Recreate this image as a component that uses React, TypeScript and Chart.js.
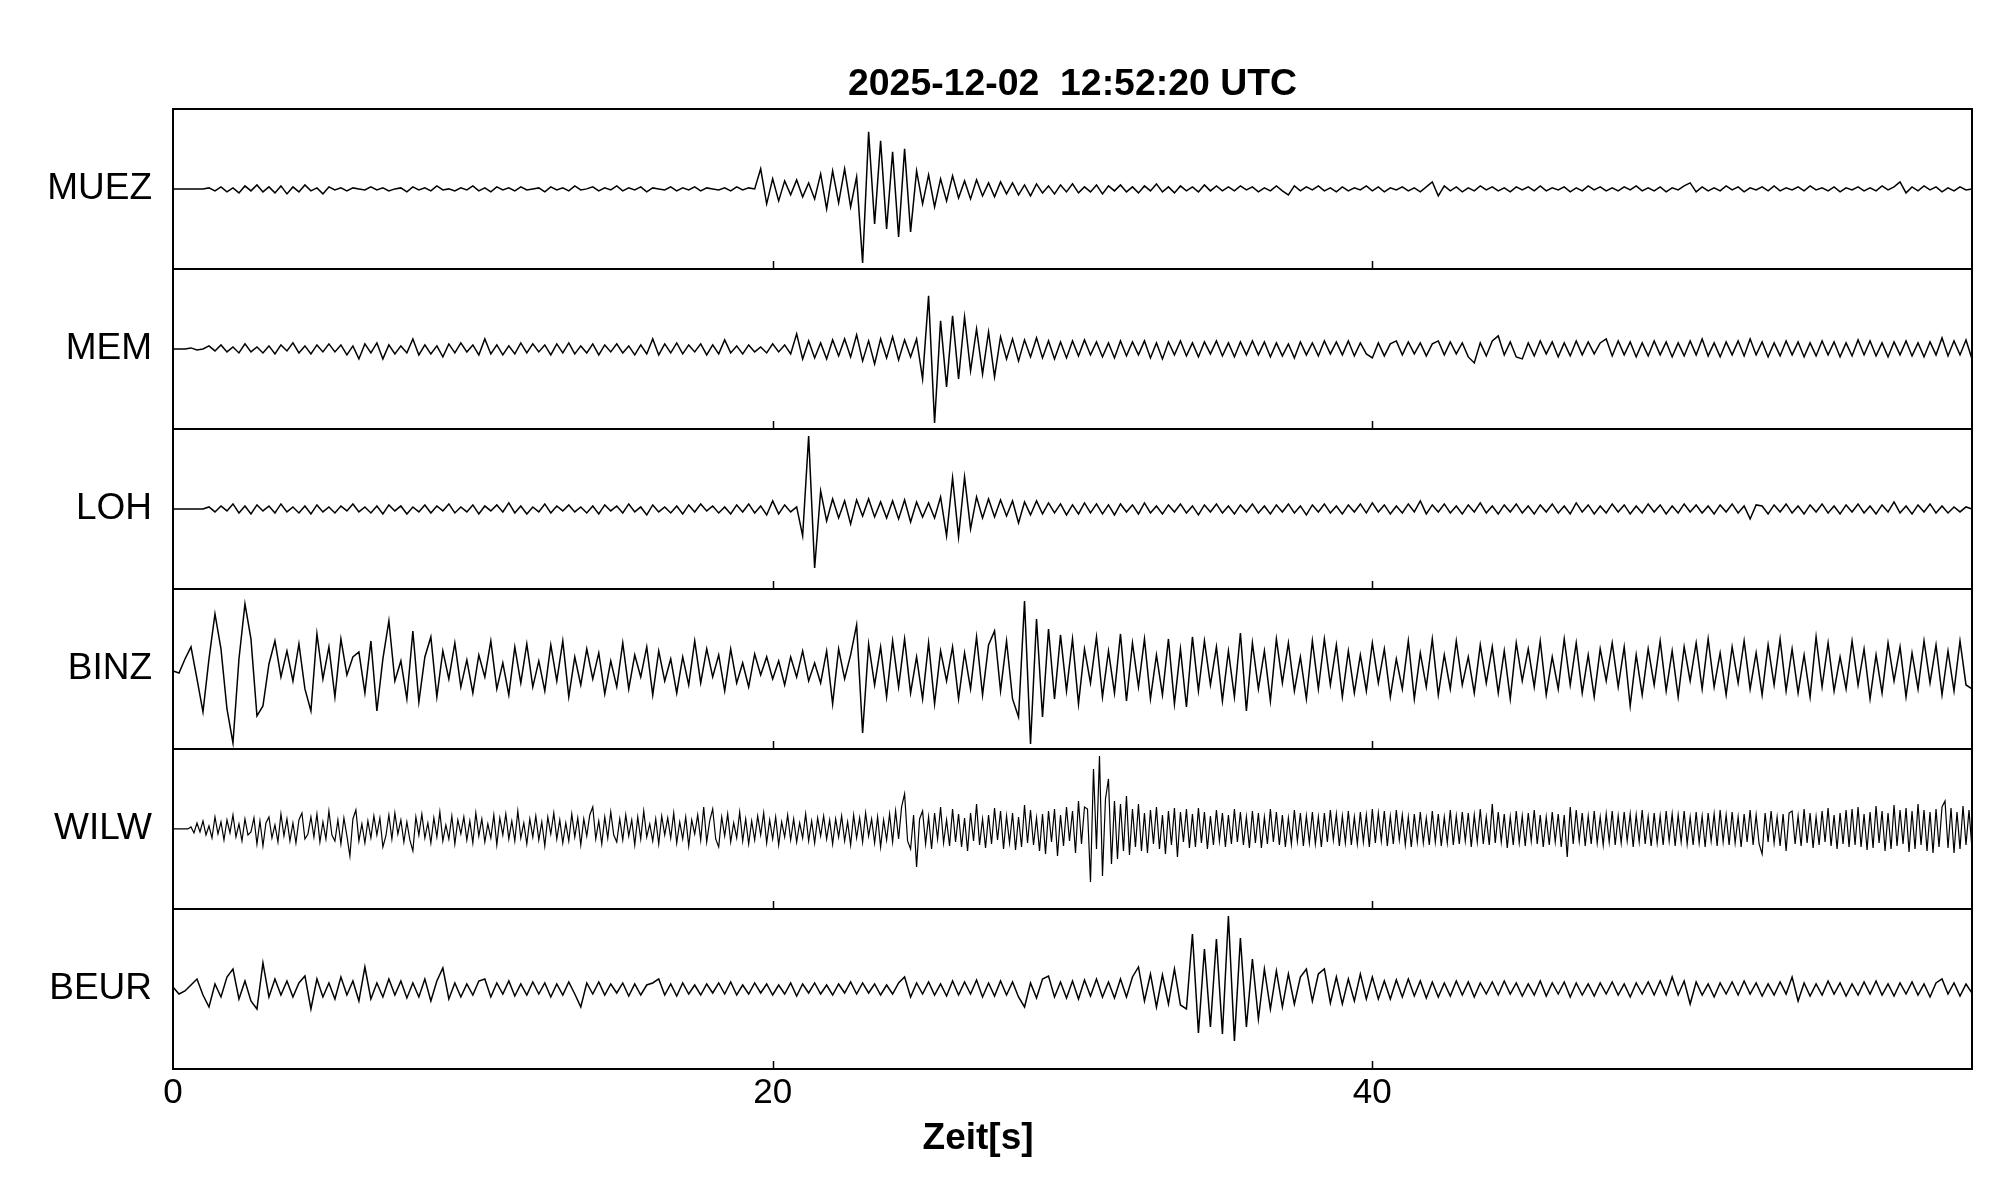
import React, { useEffect, useRef } from 'react';
import { Chart, registerables } from 'chart.js';

Chart.register(...registerables);

const W = 2005;
const H = 1202;
const FONT = '"Liberation Sans", Arial, Helvetica, sans-serif';

const TITLE = '2025-12-02  12:52:20 UTC';
const X_LABEL = 'Zeit[s]';
const STATIONS = ['MUEZ', 'MEM', 'LOH', 'BINZ', 'WILW', 'BEUR'];
const X_TICKS = [0, 20, 40];
const T_MIN = 0;
const T_MAX = 60;
const PANEL = 160; // amplitude units per panel (trace range -80..80)

const MUEZ = [
  0, 0, 0, 0, 0, 0,
  1, -2, 2, -3, 1, -4, 3, -2, 4, -3,
  2, -4, 3, -5, 2, -3, 4, -2, 1, -5,
  2, -1, 1, -2, 1, 0, -1, 2, -1, 1,
  -2, 0, 1, -3, 2, -1, 1, -2, 3, -1,
  0, -2, 1, -1, 3, -2, 1, -3, 2, -1,
  1, -2, 2, -1, 0, 1, -3, 2, -1, 1,
  -2, 3, -1, 0, 2, -2, 1, -1, 3, -2,
  1, -1, 2, -3, 1, 0, -1, 2, -2, 1,
  -1, 2, -2, 1, 0, -1, 1, -2, 2, -1, 1, 0,
  20, -15, 10, -12, 8, -6, 9, -8, 6, -10,
  15, -20, 18, -14, 20, -18,
  12, -74, 57, -35, 48, -40, 37, -48, 40, -43, 18, -15,
  14, -18, 10, -12, 13, -9, 8, -10,
  9, -7, 6, -8, 7, -5, 6, -6, 4, -7, 5, -4,
  3, -5, 4, -3, 5, -4, 2, -3, 4, -5, 3, -2, 4, -3, 2, -4, 3, -2, 5, -3, 2, -4, 3, -2, 2, -3, 4, -2, 3, -2,
  2, -2, 3, -1, 2, -3, 1, -2, 3, -2,
  -6, 3, -2, 2, -1, 3, -2, 1, -3, 2,
  -2, 1, -1, 3, -2, 2, -3, 1, -1, 2,
  -2, 1, -3, 2, 7, -7, 3, -2, 2, -3,
  1, -2, 3, -1, 2, -2, 1, -3, 2, -1,
  2, -2, 3, -2, 1, -1, 2, -3, 1, -2,
  3, -1, 2, -2, 1, -2, 2, -1, 3, -2,
  1, -2, 2, -3, 1, -1, 3, 6, -3, 2,
  -2, 1, -2, 3, -1, 2, -3, 1, -1, 2,
  -2, 3, -2, 1, -1, 2, -2, 3, -1, 1,
  -2, 2, -3, 1, -1, 2, -2, 1, -2, 3,
  -1, 2, 7, -4, 2, -2, 3, -1, 2, -3,
  1, -2, 2, -1, 0,
];

const MEM = [
  0, 0, 0, 1, -1, 0,
  3, -2, 4, -3, 2, -4, 5, -3, 2, -4,
  3, -5, 4, -2, 6, -4, 3, -5, 4, -3,
  5, -3, 4, -6, 3, -10, 5, -4, 6, -10,
  4, -5, 3, -4, 10, -6, 4, -5, 3, -8,
  5, -4, 6, -3, 4, -6, 10, -5, 4, -6,
  3, -5, 6, -4, 5, -3, 4, -6, 5, -4,
  6, -5, 3, -4, 5, -6, 4, -3, 5, -4,
  3, -6, 4, -5, 10, -6, 5, -4, 6, -5,
  4, -3, 5, -6, 4, -5, 9, -4, 3, -5,
  4, -3, 2, -4, 5, -3, 4, -5,
  15, -10,
  8, -9, 6, -10, 9, -7, 10, -8, 14, -12,
  8, -15, 10, -9, 12, -11, 9, -8, 10,
  -30, 53, -74, 28, -38, 33, -30, 32, -22, 20, -25, 17, -28, 12, -10,
  10, -12, 9, -8, 11, -9, 8, -10, 7, -9,
  8, -7, 9, -6, 7, -8, 6, -9, 8, -7,
  7, -6, 8, -9, 6, -10, 7, -6, 8, -7,
  6, -8, 7, -5, 8, -7, 6, -8, 7, -6,
  8, -6, 7, -8, 6, -7, 5, -9, 7, -6,
  6, -7, 8, -5, 7, -6, 8, -7, 6, -5,
  -9, 6, -7, 5, 8, -6, 7, -5, 6, -7,
  5, 8, -6, 7, -5, 6, -8, -14, 6, -7,
  8, 13, -6, 7, -8, -10, 6, -7, 8, -5,
  7, -8, 6, -7, 8, -6, 7, -5, 6, 10,
  -7, 8, -6, 7, -8, 6, -7, 8, -6, 7,
  -8, 6, -7, 8, -6, 10, -7, 6, -8, 7,
  -6, 8, -7, 10, -6, 7, -8, 6, -7, 8,
  -6, 7, -8, 6, -7, 8, -6, 7, -8, 6,
  -7, 9, -6, 8, -7, 6, -8, 7, -6, 8,
  -7, 6, -8, 7, -6, 11, -7, 8, -6, 9,
  -10,
];

const LOH = [
  0, 0, 0, 0, 0, 0,
  2, -3, 3, -2, 5, -4, 3, -5, 4, -2,
  3, -4, 5, -3, 2, -4, 3, -5, 4, -3,
  2, -4, 3, -2, 5, -3, 2, -4, 3, -5,
  4, -2, 3, -5, 2, -3, 4, -4, 3, -2,
  5, -4, 2, -3, 4, -5, 3, -2, 4, -3,
  6, -4, 3, -5, 2, -3, 5, -4, 3, -2,
  4, -3, 2, -4, 3, -5, 4, -2, 3, -4,
  5, -3, 2, -6, 4, -3, 2, -4, 3, -5,
  4, -3, 5, -2, 3, -4, 2, -5, 4, -3,
  5, -4, 3, -6, 8, -5, 4, -3,
  2, -27, 73, -59, 18, -12, 10, -9,
  8, -15, 9, -7, 10, -8, 7, -9, 8, -10, 9, -13, 7, -8, 6, -9,
  12, -27, 31, -28, 32, -20, 12, -9,
  10, -8, 9, -7, 8, -14, 7, -6, 8,
  -5, 6, -4, 5, -6, 4, -5, 6, -4, 5,
  -5, 4, -6, 5, -3, 4, -5, 6, -4, 3,
  -5, 4, -3, 5, -4, 3, -6, 4, -3, 5,
  -4, 3, -5, 4, -3, 5, -4, 3, -5, 4,
  -3, 5, -4, 3, -6, 4, -3, 5, -4, 3,
  -5, 4, -3, 5, -4, 6, -3, 4, -5, 3,
  -4, 5, -3, 8, -5, 4, -3, 5, -4, 3,
  -5, 4, -3, 6, -4, 3, -5, 4, -3, 5,
  -4, 3, -5, 4, -3, 5, -4, 3, -5, 6,
  -3, 4, -5, 3, -4, 5, -3, 4, -5, 3,
  -4, 5, -3, 4, -5, 3, -4, 5, -3, 4,
  -4, 3, -5, 4, -3, 5, -4, 3, -10, 4,
  3, -5, 4, -3, 5, -4, 3, -5, 4, -3,
  5, -4, 3, -5, 4, -3, 5, -4, 3, -5,
  4, -3, 7, -4, 3, -5, 4, -3, 5, -4,
  3, -4, 2, -3, 2, 0,
];

const BINZ = [
  -2, -4, 10, 22, -10, -43, 10, 55, 20, -40,
  -74, 10, 65, 30, -47, -37, 5, 28, -8, 18,
  -12, 25, -20, -42, 35, -10, 22, -28, 30, -6,
  12, 17, -24, 28, -42, 10, 48, -12, 8, -30,
  38, -33, 12, 32, -28, 18, -10, 26, -18, 9,
  -24, 14, -8, 28, -20, 6, -26, 22, -14, 25,
  -18, 8, -22, 24, -12, 28, -28, 12, -16, 20,
  -10, 16, -25, 8, -18, 26, -20, 14, -8, 22,
  -26, 18, -12, 10, -24, 12, -16, 28, -14, 20,
  -8, 14, -22, 20, -14, 6, -18, 15, -6, 12,
  -10, 8, -16, 12, -8, 18, -12, 6, -14, 18,
  -35, 20, -10, 14, 44, -64, 25, -16, 22, -28,
  28, -18, 30, -24, 12, -30, 26, -35, 18, -12,
  22, -30, 16, -20, 32, -26, 24, 38, -22, 28,
  -30, -48, 68, -75, 50, -48, 40, -30, 34, -22,
  30, -35, 20, -14, 32, -28, 18, -24, 35, -32,
  26, -18, 30, -30, 14, -26, 30, -35, 20, -38,
  32, -22, 28, -16, 22, -32, 18, -28, 36, -42,
  26, -20, 18, -32, 30, -14, 26, -22, 12, -30,
  28, -20, 30, -16, 24, -28, 18, -24, 14, -22,
  26, -14, 20, -28, 10, -20, 28, -30, 16, -18,
  30, -26, 14, -20, 28, -16, 12, -24, 24, -14,
  22, -24, 18, -30, 26, -12, 20, -18, 28, -26,
  12, -20, 30, -16, 26, -24, 14, -28, 20, -12,
  26, -18, 22, -37, 14, -26, 20, -16, 28, -22,
  18, -28, 22, -12, 26, -20, 30, -18, 16, -26,
  22, -14, 28, -20, 16, -26, 24, -16, 30, -22,
  20, -24, 14, -28, 32, -18, 26, -22, 12, -20,
  28, -16, 20, -30, 14, -24, 26, -12, 22, -28,
  16, -20, 28, -14, 24, -26, 18, -22, 28, -16,
  -20,
];

const WILW = [
  0, 0, 0, 0, 0, 0, 2, -4, 6, -3, 8, -6, 3, -9, 12, -5, 7, -11, 9, -4,
  14, -8, 5, -12, 10, -6, -3, 11, -15, 8, -17, 6, 12, -9, 4, -13, 15, -7, 10, -12,
  6, -14, 9, 16, -10, -5, 12, -8, 15, -13, 7, -10, 18, -6, -12, 9, -15, 11, -7, -27,
  10, 19, -12, 5, -14, 8, -9, 13, -6, 11, -18, -7, 14, -10, 16, -5, 9, -13, 7, -11,
  -22, 12, -6, 15, -9, 6, -14, 11, -8, 17, -12, 4, -10, 13, -15, 9, -5, 12, -11, 8,
  -14, 16, -7, 10, -13, 5, -9, 14, -16, 11, -6, 15, -10, 8, -12, 18, -9, 6, -15, 10,
  -8, 13, -11, 7, -17, 12, -5, 16, -10, 9, -14, 6, -12, 15, -8, 11, -16, 10, -7, 14,
  22, -10, 8, -15, 12, -9, 17, -6, -13, 10, -11, 14, -7, 9, -16, 12, -10, 18, -8, 5,
  -12, 10, -15, 13, -6, 11, -9, 16, -14, 7, -10, 12, -17, 9, -5, 14, -11, 22, -13, 8,
  20, -10, -18, 12, -7, 15, -13, 6, -9, 17, -12, 10, -15, 8, -11, 13, -6, 16, -14, 9,
  -10, 12, -16, 7, -8, 14, -11, 10, -13, 6, -9, 15, -12, 8, -14, 11, -7, 13, -10, 9,
  -15, 10, -8, 13, -12, 7, -16, 14, -9, 11, -13, 16, -7, 10, -14, 12, -18, 9, -11, 15,
  -13, 18, -10, 22, 35, -12, -20, 14, -38, 10, 18, -15, 12, -20, 16, -10, 22, -14, 9, -17,
  20, -13, 15, -18, 11, -22, 16, -12, 25, -16, 10, -19, 14, -15, 21, -11, 18, -20, 13, -14,
  16, -21, 12, -18, 24, -14, 19, -16, 11, -22, 15, -25, 18, -13, 20, -27, 14, -17, 22, -12,
  18, -24, 28, -15, 22, 20, -53, 60, -20, 73, -47, 30, 50, -35, 28, -30, 25, -22, 33, -26,
  20, -18, 25, -22, 16, -24, 19, -15, 22, -20, 14, -25, 18, -16, 21, -28, 17, -13, 20, -19,
  15, -18, 21, -14, 17, -20, 13, -16, 19, -12, 16, -18, 14, -15, 20, -13, 17, -16, 12, -19,
  18, -14, 16, -19, 12, -15, 20, -13, 17, -16, 14, -18, 11, -15, 19, -12, 16, -17, 13, -14,
  17, -15, 12, -18, 16, -13, 19, -11, 15, -17, 13, -14, 18, -16, 12, -15, 17, -13, 14, -18,
  20, -14, 16, -12, 18, -17, 13, -15, 19, -11, 14, -16, 12, -18, 15, -13, 17, -14, 11, -16,
  18, -13, 15, -17, 12, -14, 19, -16, 13, -15, 17, -12, 16, -18, 14, -13, 20, -15, 12, -16,
  25, -14, 17, -13, 15, -19, 12, -16, 18, -14, 13, -17, 16, -12, 19, -15, 14, -18, 12, -16,
  17, -13, 15, -18, 14, -28, 22, -15, 19, -12, 16, -17, 13, -15, 18, -14, 12, -16, 15, -13,
  18, -16, 13, -14, 17, -12, 15, -18, 14, -13, 19, -15, 12, -17, 16, -14, 13, -16, 18, -12,
  15, -17, 14, -13, 18, -15, 12, -16, 17, -14, 13, -18, 16, -12, 15, -17, 19, -13, 14, -16,
  17, -14, 12, -18, 15, -13, 19, -16, 14, -15, -25, 16, -13, 18, -14, 12, -17, 15, -22, 16,
  18, -15, 13, -17, 20, -14, 16, -19, 12, -16, 18, -13, 21, -17, 14, -20, 16, -15, 19, -18,
  20, -16, 22, -18, 15, -21, 17, -19, 23, -14, 18, -22, 16, -20, 24, -17, 19, -15, 21, -23,
  18, -20, 25, -16, 19, -22, 17, -24, 20, -18, 22, 28, -19, 21, -24, 17, -20, 23, -16, 19,
  -20,
];

const BEUR = [
  2, -5, -2, 4, 10, -6, -18, 5, -8, 12,
  20, -10, 8, -12, -20, 26, -8, 10, -6, 8,
  -8, 6, 13, -20, 10, -8, 6, -10, 12, -6,
  8, -12, 22, -10, 6, -8, 10, -6, 8, -9,
  6, -8, 10, -12, 8, 21, -10, 6, -8, 5,
  -6, 8, 10, -8, 6, -5, 8, -7, 5, -6,
  7, -5, 6, -8, 5, -6, 7, -5, -18, 6,
  -5, 7, -6, 5, -4, 6, -7, 5, -6, 4,
  6, 10, -6, 5, -7, 6, -5, 4, -6, 5,
  -4, 6, -5, 7, -6, 4, -5, 6, -4, 5,
  -6, 4, -5, 6, -7, 5, -4, 6, -5, 4,
  -6, 5, -4, 7, -5, 6, -4, 5, -6, 4,
  -5, 6, 12, -8, 6, -5, 7, -6, 5, -7,
  8, -6, 7, -5, 9, -8, 6, -7, 8, -6,
  7, -8, -18, 6, -9, 10, 13, -8, 7, -9,
  8, -10, 9, -7, 10, -8, 7, -9, 10, -8,
  12, 22, -12, 15, -18, 14, -15, 20, -16, -20,
  55, -44, 40, -38, 50, -45, 73, -52, 51, -38,
  30, -30, 20, -20, 18, -18, 15, -15, 12, 20,
  -12, 15, 20, -14, 12, -15, 10, -12, 15, -10,
  12, -10, 8, -10, 9, -8, 10, -7, 8, -9,
  7, -8, 6, -7, 8, -6, 7, -8, 6, -5,
  7, -6, 8, -5, 6, -7, 5, -6, 8, -7,
  6, -5, 7, -8, 6, -6, 5, -7, 6, -5,
  7, -6, 5, -8, 6, -5, 7, -6, 8, -6,
  12, -6, 8, -15, 7, -6, 5, -8, 6, -5,
  7, -6, 8, -5, 6, -7, 5, -6, 7, -5,
  12, -12, 6, -7, 5, -6, 8, -5, 6, -7,
  5, -6, 7, -5, 8, -6, 5, -7, 6, -5,
  7, -6, 5, -8, 6, 10, -5, 6, -7, 5,
  -4,
];

const TRACES = [MUEZ, MEM, LOH, BINZ, WILW, BEUR];
const TRACE_DT = [0.2, 0.2, 0.2, 0.2, 0.1, 0.2]; // seconds between samples

const Y_MAX = PANEL * STATIONS.length;
const panelCenter = (k: number) => Y_MAX - PANEL / 2 - PANEL * k;

const framePlugin = {
  id: 'seisFrame',
  afterDraw(chart: any) {
    const { ctx, chartArea: a, scales } = chart;
    const xs = scales.x;
    const ys = scales.y;
    ctx.save();
    ctx.strokeStyle = '#000';
    ctx.lineWidth = 2;
    ctx.beginPath();
    ctx.moveTo(a.left, a.top);
    ctx.lineTo(a.right, a.top);
    ctx.lineTo(a.right, a.bottom);
    for (let k = 1; k < STATIONS.length; k++) {
      const py = Math.round(ys.getPixelForValue(k * PANEL));
      ctx.moveTo(a.left, py);
      ctx.lineTo(a.right, py);
    }
    ctx.stroke();
    ctx.lineWidth = 1.5;
    ctx.beginPath();
    for (let k = 0; k < STATIONS.length; k++) {
      const py = Math.round(ys.getPixelForValue(k * PANEL));
      for (const t of X_TICKS) {
        if (t <= T_MIN) continue;
        const px = Math.round(xs.getPixelForValue(t)) + 0.5;
        ctx.moveTo(px, py);
        ctx.lineTo(px, py - 8);
      }
    }
    ctx.stroke();
    ctx.fillStyle = '#000';
    ctx.font = `bold 37px ${FONT}`;
    ctx.textAlign = 'center';
    ctx.textBaseline = 'alphabetic';
    ctx.fillText(X_LABEL, a.left + a.width * 0.4475, a.bottom + 80);
    ctx.restore();
  },
};

export default function App() {
  const ref = useRef<HTMLCanvasElement>(null);

  useEffect(() => {
    const canvas = ref.current;
    if (!canvas) return;
    const datasets = TRACES.map((arr, k) => ({
      label: STATIONS[k],
      data: arr.map((v, i) => ({ x: T_MIN + i * TRACE_DT[k], y: panelCenter(k) + v })),
      borderColor: '#000',
      borderWidth: k === 4 ? 1.2 : 1.5,
      pointRadius: 0,
      tension: 0,
      fill: false,
    }));
    const chart = new Chart(canvas, {
      type: 'line',
      data: { datasets },
      plugins: [framePlugin],
      options: {
        animation: false,
        responsive: false,
        devicePixelRatio: 1,
        events: [],
        layout: { padding: { left: 0, right: 33, top: 0, bottom: 0 } },
        plugins: {
          legend: { display: false },
          tooltip: { enabled: false },
          title: {
            display: true,
            text: TITLE,
            color: '#000',
            fullSize: false,
            font: { family: FONT, size: 37.4, weight: 'bold' },
            padding: { top: 62, bottom: 2 },
          },
        },
        scales: {
          x: {
            type: 'linear',
            min: T_MIN,
            max: T_MAX,
            position: 'bottom',
            afterBuildTicks: (s: any) => {
              s.ticks = X_TICKS.map((v) => ({ value: v }));
            },
            afterFit: (s: any) => {
              s.height = 133;
            },
            grid: { display: false, drawTicks: false },
            border: { display: true, color: '#000', width: 2 },
            ticks: {
              color: '#000',
              font: { family: FONT, size: 35 },
              padding: 3,
              maxRotation: 0,
              autoSkip: false,
            },
          },
          y: {
            type: 'linear',
            min: 0,
            max: Y_MAX,
            afterBuildTicks: (s: any) => {
              s.ticks = STATIONS.map((_, k) => ({ value: panelCenter(k) }));
            },
            afterFit: (s: any) => {
              s.width = 173;
            },
            grid: { display: false, drawTicks: false },
            border: { display: true, color: '#000', width: 2 },
            ticks: {
              color: '#000',
              font: { family: FONT, size: 37 },
              padding: 21,
              autoSkip: false,
              callback: (value: any) => {
                const k = Math.round((Y_MAX - PANEL / 2 - Number(value)) / PANEL);
                return STATIONS[k] ?? '';
              },
            },
          },
        },
      },
    } as any);
    return () => chart.destroy();
  }, []);

  return (
    <div style={{ position: 'absolute', left: 0, top: 0, width: W, height: H, background: '#fff' }}>
      <canvas ref={ref} width={W} height={H} style={{ display: 'block', width: W, height: H }} />
    </div>
  );
}
